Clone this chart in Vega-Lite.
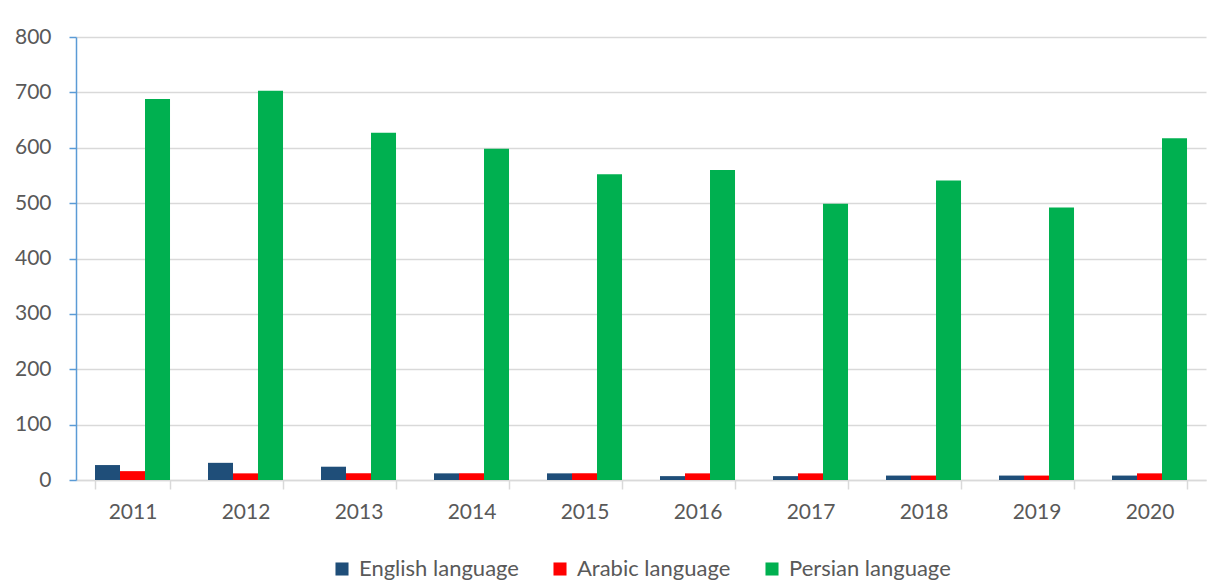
{
  "$schema": "https://vega.github.io/schema/vega-lite/v6.json",
  "autosize": {"type": "none"},
  "padding": {"left": 76, "top": 37, "right": 11, "bottom": 101},
  "width": 1130,
  "height": 443,
  "background": "white",
  "config": {
    "view": {"stroke": null},
    "font": "Lato",
    "axis": {"labelFont": "Lato", "labelFontSize": 21, "labelColor": "#595959"},
    "legend": {"labelFont": "Lato", "labelFontSize": 22, "labelColor": "#595959", "labelLimit": 400, "layout": {"bottom": {"anchor": "middle"}}}
  },
  "data": {
    "values": [
      {"year": "2011", "lang": "English language", "value": 27},
      {"year": "2011", "lang": "Arabic language", "value": 16},
      {"year": "2011", "lang": "Persian language", "value": 688},
      {"year": "2012", "lang": "English language", "value": 31},
      {"year": "2012", "lang": "Arabic language", "value": 12},
      {"year": "2012", "lang": "Persian language", "value": 703},
      {"year": "2013", "lang": "English language", "value": 24},
      {"year": "2013", "lang": "Arabic language", "value": 12},
      {"year": "2013", "lang": "Persian language", "value": 627},
      {"year": "2014", "lang": "English language", "value": 12},
      {"year": "2014", "lang": "Arabic language", "value": 12},
      {"year": "2014", "lang": "Persian language", "value": 598},
      {"year": "2015", "lang": "English language", "value": 12},
      {"year": "2015", "lang": "Arabic language", "value": 12},
      {"year": "2015", "lang": "Persian language", "value": 552},
      {"year": "2016", "lang": "English language", "value": 7},
      {"year": "2016", "lang": "Arabic language", "value": 12},
      {"year": "2016", "lang": "Persian language", "value": 560},
      {"year": "2017", "lang": "English language", "value": 7},
      {"year": "2017", "lang": "Arabic language", "value": 12},
      {"year": "2017", "lang": "Persian language", "value": 499},
      {"year": "2018", "lang": "English language", "value": 8},
      {"year": "2018", "lang": "Arabic language", "value": 8},
      {"year": "2018", "lang": "Persian language", "value": 541},
      {"year": "2019", "lang": "English language", "value": 8},
      {"year": "2019", "lang": "Arabic language", "value": 8},
      {"year": "2019", "lang": "Persian language", "value": 492},
      {"year": "2020", "lang": "English language", "value": 8},
      {"year": "2020", "lang": "Arabic language", "value": 12},
      {"year": "2020", "lang": "Persian language", "value": 617}
    ]
  },
  "mark": {"type": "bar"},
  "encoding": {
    "x": {
      "field": "year",
      "type": "nominal",
      "title": null,
      "scale": {"paddingInner": 0.336, "paddingOuter": 0.168},
      "axis": {
        "labelAngle": 0,
        "tickBand": "extent",
        "domainColor": "#D9D9D9",
        "domainWidth": 1.5,
        "tickColor": "#D9D9D9",
        "tickWidth": 1.5,
        "tickSize": 9,
        "labelPadding": 12
      }
    },
    "xOffset": {
      "field": "lang",
      "type": "nominal",
      "scale": {"domain": ["English language", "Arabic language", "Persian language"], "paddingInner": 0, "paddingOuter": 0}
    },
    "y": {
      "field": "value",
      "type": "quantitative",
      "title": null,
      "scale": {"domain": [0, 800], "nice": false},
      "axis": {
        "values": [0, 100, 200, 300, 400, 500, 600, 700, 800],
        "domainColor": "#5B9BD5",
        "domainWidth": 1.5,
        "tickColor": "#5B9BD5",
        "tickWidth": 1.5,
        "tickSize": 7,
        "labelPadding": 18,
        "gridColor": "#D9D9D9",
        "gridWidth": 1.5
      }
    },
    "color": {
      "field": "lang",
      "type": "nominal",
      "scale": {"domain": ["English language", "Arabic language", "Persian language"], "range": ["#1F4E79", "#FF0000", "#00B050"]},
      "legend": {
        "title": null,
        "orient": "bottom",
        "direction": "horizontal",
        "symbolType": "square",
        "symbolSize": 170,
        "symbolStrokeWidth": 0,
        "columnPadding": 30,
        "labelOffset": 6,
        "offset": 36
      }
    }
  }
}
